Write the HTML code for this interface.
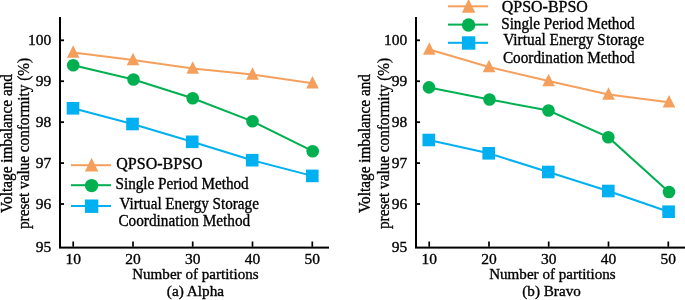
<!DOCTYPE html>
<html><head><meta charset="utf-8"><style>
html,body{margin:0;padding:0;background:#fff;}
body{width:685px;height:300px;overflow:hidden;}
svg{display:block;font-family:"Liberation Serif", serif;will-change:transform;}
text{fill:#000;stroke:#000;stroke-width:0.35px;}
</style></head><body>
<svg width="685" height="300" viewBox="0 0 685 300">
<rect x="59" y="17" width="2" height="231" fill="#000"/>
<rect x="59" y="246.6" width="270" height="2" fill="#000"/>
<rect x="61" y="39.40" width="3" height="1.8" fill="#000"/>
<rect x="61" y="80.33" width="3" height="1.8" fill="#000"/>
<rect x="61" y="121.26" width="3" height="1.8" fill="#000"/>
<rect x="61" y="162.19" width="3" height="1.8" fill="#000"/>
<rect x="61" y="203.12" width="3" height="1.8" fill="#000"/>
<rect x="72.35" y="241.5" width="1.7" height="5.2" fill="#000"/>
<rect x="132.15" y="241.5" width="1.7" height="5.2" fill="#000"/>
<rect x="191.85" y="241.5" width="1.7" height="5.2" fill="#000"/>
<rect x="251.65" y="241.5" width="1.7" height="5.2" fill="#000"/>
<rect x="311.45" y="241.5" width="1.7" height="5.2" fill="#000"/>
<text x="51.3" y="44.90" font-size="15.5" text-anchor="end" >100</text>
<text x="51.3" y="85.83" font-size="15.5" text-anchor="end" >99</text>
<text x="51.3" y="126.76" font-size="15.5" text-anchor="end" >98</text>
<text x="51.3" y="167.69" font-size="15.5" text-anchor="end" >97</text>
<text x="51.3" y="208.62" font-size="15.5" text-anchor="end" >96</text>
<text x="51.3" y="251.55" font-size="15.5" text-anchor="end" >95</text>
<text x="73.20" y="263.7" font-size="15.5" text-anchor="middle" >10</text>
<text x="133.00" y="263.7" font-size="15.5" text-anchor="middle" >20</text>
<text x="192.70" y="263.7" font-size="15.5" text-anchor="middle" >30</text>
<text x="252.50" y="263.7" font-size="15.5" text-anchor="middle" >40</text>
<text x="312.30" y="263.7" font-size="15.5" text-anchor="middle" >50</text>
<text x="132.2" y="279.2" font-size="15.5" text-anchor="start" textLength="126.5" lengthAdjust="spacingAndGlyphs" >Number of partitions</text>
<text x="166.8" y="296.2" font-size="15.5" text-anchor="start" textLength="57.3" lengthAdjust="spacingAndGlyphs" >(a) Alpha</text>
<g transform="translate(11.7,213) rotate(-90)"><text x="0" y="0" font-size="16" text-anchor="start" textLength="139" lengthAdjust="spacingAndGlyphs" >Voltage imbalance and</text></g>
<g transform="translate(28.7,229) rotate(-90)"><text x="0" y="0" font-size="16" text-anchor="start" textLength="171" lengthAdjust="spacingAndGlyphs" >preset value conformity (%)</text></g>
<polyline points="73.20,52.50 133.00,60.00 192.70,68.50 252.50,74.50 312.50,83.20" fill="none" stroke="#F4A05C" stroke-width="2"/>
<polygon points="73.20,45.20 66.90,57.70 79.50,57.70" fill="#F4A05C"/>
<polygon points="133.00,52.70 126.70,65.20 139.30,65.20" fill="#F4A05C"/>
<polygon points="192.70,61.20 186.40,73.70 199.00,73.70" fill="#F4A05C"/>
<polygon points="252.50,67.20 246.20,79.70 258.80,79.70" fill="#F4A05C"/>
<polygon points="312.50,75.90 306.20,88.40 318.80,88.40" fill="#F4A05C"/>
<polyline points="73.20,65.30 133.50,79.50 192.70,98.30 252.50,121.30 312.70,151.20" fill="none" stroke="#00B050" stroke-width="2"/>
<circle cx="73.20" cy="65.30" r="6.3" fill="#00B050"/>
<circle cx="133.50" cy="79.50" r="6.3" fill="#00B050"/>
<circle cx="192.70" cy="98.30" r="6.3" fill="#00B050"/>
<circle cx="252.50" cy="121.30" r="6.3" fill="#00B050"/>
<circle cx="312.70" cy="151.20" r="6.3" fill="#00B050"/>
<polyline points="73.00,108.30 132.50,124.00 192.20,141.80 252.20,160.20 312.30,175.90" fill="none" stroke="#00B0F0" stroke-width="2"/>
<rect x="66.70" y="102.00" width="12.6" height="12.6" fill="#00B0F0"/>
<rect x="126.20" y="117.70" width="12.6" height="12.6" fill="#00B0F0"/>
<rect x="185.90" y="135.50" width="12.6" height="12.6" fill="#00B0F0"/>
<rect x="245.90" y="153.90" width="12.6" height="12.6" fill="#00B0F0"/>
<rect x="306.00" y="169.60" width="12.6" height="12.6" fill="#00B0F0"/>
<rect x="71" y="164.2" width="40" height="2" fill="#F4A05C"/><polygon points="91.60,157.80 84.90,171.60 98.30,171.60" fill="#F4A05C"/>
<rect x="71" y="184.2" width="40" height="2" fill="#00B050"/><circle cx="91.60" cy="185.60" r="6.7" fill="#00B050"/>
<rect x="71" y="205" width="40" height="2" fill="#00B0F0"/><rect x="84.90" y="199.50" width="13.4" height="13.4" fill="#00B0F0"/>
<text x="116.3" y="169" font-size="16" text-anchor="start" textLength="86.3" lengthAdjust="spacingAndGlyphs" >QPSO-BPSO</text>
<text x="115.5" y="189.1" font-size="16" text-anchor="start" textLength="133.2" lengthAdjust="spacingAndGlyphs" >Single Period Method</text>
<text x="119.6" y="209" font-size="16" text-anchor="start" textLength="139.3" lengthAdjust="spacingAndGlyphs" >Virtual Energy Storage</text>
<text x="118.4" y="226.3" font-size="16" text-anchor="start" textLength="131.8" lengthAdjust="spacingAndGlyphs" >Coordination Method</text>
<rect x="415" y="17" width="2" height="231" fill="#000"/>
<rect x="415" y="246.6" width="270" height="2" fill="#000"/>
<rect x="417" y="39.40" width="3" height="1.8" fill="#000"/>
<rect x="417" y="80.33" width="3" height="1.8" fill="#000"/>
<rect x="417" y="121.26" width="3" height="1.8" fill="#000"/>
<rect x="417" y="162.19" width="3" height="1.8" fill="#000"/>
<rect x="417" y="203.12" width="3" height="1.8" fill="#000"/>
<rect x="428.35" y="241.5" width="1.7" height="5.2" fill="#000"/>
<rect x="488.15" y="241.5" width="1.7" height="5.2" fill="#000"/>
<rect x="547.85" y="241.5" width="1.7" height="5.2" fill="#000"/>
<rect x="607.65" y="241.5" width="1.7" height="5.2" fill="#000"/>
<rect x="667.45" y="241.5" width="1.7" height="5.2" fill="#000"/>
<text x="407.3" y="44.90" font-size="15.5" text-anchor="end" >100</text>
<text x="407.3" y="85.83" font-size="15.5" text-anchor="end" >99</text>
<text x="407.3" y="126.76" font-size="15.5" text-anchor="end" >98</text>
<text x="407.3" y="167.69" font-size="15.5" text-anchor="end" >97</text>
<text x="407.3" y="208.62" font-size="15.5" text-anchor="end" >96</text>
<text x="407.3" y="251.55" font-size="15.5" text-anchor="end" >95</text>
<text x="429.20" y="263.7" font-size="15.5" text-anchor="middle" >10</text>
<text x="489.00" y="263.7" font-size="15.5" text-anchor="middle" >20</text>
<text x="548.70" y="263.7" font-size="15.5" text-anchor="middle" >30</text>
<text x="608.50" y="263.7" font-size="15.5" text-anchor="middle" >40</text>
<text x="668.30" y="263.7" font-size="15.5" text-anchor="middle" >50</text>
<text x="489.2" y="279.2" font-size="15.5" text-anchor="start" textLength="126.5" lengthAdjust="spacingAndGlyphs" >Number of partitions</text>
<text x="522.3" y="296.2" font-size="15.5" text-anchor="start" textLength="58.5" lengthAdjust="spacingAndGlyphs" >(b) Bravo</text>
<g transform="translate(369.7,213) rotate(-90)"><text x="0" y="0" font-size="16" text-anchor="start" textLength="139" lengthAdjust="spacingAndGlyphs" >Voltage imbalance and</text></g>
<g transform="translate(388.7,229) rotate(-90)"><text x="0" y="0" font-size="16" text-anchor="start" textLength="171" lengthAdjust="spacingAndGlyphs" >preset value conformity (%)</text></g>
<polyline points="429.30,49.50 489.00,67.00 548.60,81.00 608.50,94.50 669.00,102.30" fill="none" stroke="#F4A05C" stroke-width="2"/>
<polygon points="429.30,42.20 423.00,54.70 435.60,54.70" fill="#F4A05C"/>
<polygon points="489.00,59.70 482.70,72.20 495.30,72.20" fill="#F4A05C"/>
<polygon points="548.60,73.70 542.30,86.20 554.90,86.20" fill="#F4A05C"/>
<polygon points="608.50,87.20 602.20,99.70 614.80,99.70" fill="#F4A05C"/>
<polygon points="669.00,95.00 662.70,107.50 675.30,107.50" fill="#F4A05C"/>
<polyline points="429.00,87.40 489.50,99.50 548.50,110.50 608.30,137.20 669.00,192.00" fill="none" stroke="#00B050" stroke-width="2"/>
<circle cx="429.00" cy="87.40" r="6.3" fill="#00B050"/>
<circle cx="489.50" cy="99.50" r="6.3" fill="#00B050"/>
<circle cx="548.50" cy="110.50" r="6.3" fill="#00B050"/>
<circle cx="608.30" cy="137.20" r="6.3" fill="#00B050"/>
<circle cx="669.00" cy="192.00" r="6.3" fill="#00B050"/>
<polyline points="428.80,140.00 488.70,153.30 548.30,172.00 608.30,191.00 668.60,211.70" fill="none" stroke="#00B0F0" stroke-width="2"/>
<rect x="422.50" y="133.70" width="12.6" height="12.6" fill="#00B0F0"/>
<rect x="482.40" y="147.00" width="12.6" height="12.6" fill="#00B0F0"/>
<rect x="542.00" y="165.70" width="12.6" height="12.6" fill="#00B0F0"/>
<rect x="602.00" y="184.70" width="12.6" height="12.6" fill="#00B0F0"/>
<rect x="662.30" y="205.40" width="12.6" height="12.6" fill="#00B0F0"/>
<rect x="448" y="5.3" width="40" height="2" fill="#F4A05C"/><polygon points="468.60,-1.10 461.90,12.70 475.30,12.70" fill="#F4A05C"/>
<rect x="448" y="23.6" width="40" height="2" fill="#00B050"/><circle cx="468.60" cy="25.00" r="6.7" fill="#00B050"/>
<rect x="448" y="41.8" width="40" height="2" fill="#00B0F0"/><rect x="461.90" y="36.30" width="13.4" height="13.4" fill="#00B0F0"/>
<text x="501.8" y="11.5" font-size="16" text-anchor="start" textLength="86" lengthAdjust="spacingAndGlyphs" >QPSO-BPSO</text>
<text x="501.2" y="29.2" font-size="16" text-anchor="start" textLength="133.5" lengthAdjust="spacingAndGlyphs" >Single Period Method</text>
<text x="503.2" y="45.2" font-size="16" text-anchor="start" textLength="141" lengthAdjust="spacingAndGlyphs" >Virtual Energy Storage</text>
<text x="502.9" y="63.1" font-size="16" text-anchor="start" textLength="131.8" lengthAdjust="spacingAndGlyphs" >Coordination Method</text>
</svg>
</body></html>
